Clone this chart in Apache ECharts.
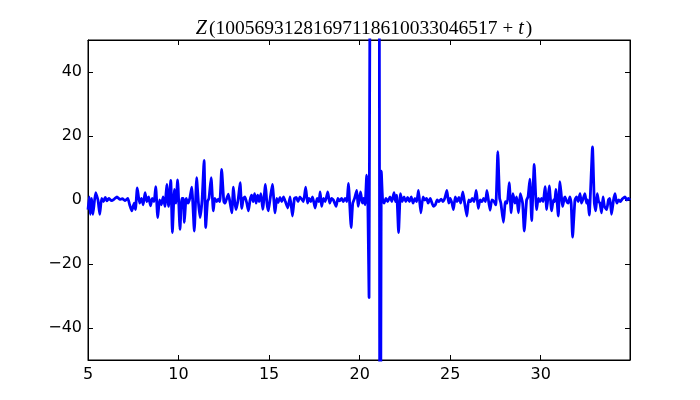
<!DOCTYPE html>
<html>
<head>
<meta charset="utf-8">
<script src="https://cdn.jsdelivr.net/npm/echarts@6/dist/echarts.min.js"></script>
<style>html,body{margin:0;padding:0;background:#fff}#c{width:700px;height:400px}</style>
</head>
<body>
<div id="c"></div>
<script>
const titleBase = "10056931281697118610033046517";
const xTicks = [5, 10, 15, 20, 25, 30];
const yTicks = [-40, -20, 0, 20, 40];

const tValues = [
5.00,5.07,5.13,5.20,5.27,5.42,5.55,5.65,5.75,5.85,5.95,6.05,6.15,6.30,6.45,6.60,6.75,6.90,7.05,7.20,
7.30,7.42,7.55,7.62,7.72,7.85,7.95,8.05,8.15,8.25,8.35,8.45,8.55,8.65,8.74,8.85,8.95,9.05,9.15,9.25,
9.35,9.45,9.57,9.66,9.77,9.85,9.95,10.08,10.18,10.27,10.32,10.42,10.52,10.62,10.73,10.87,11.00,11.10,11.19,11.30,
11.41,11.50,11.60,11.68,11.80,11.92,12.00,12.10,12.20,12.28,12.38,12.50,12.57,12.66,12.75,12.85,12.94,13.03,13.10,13.18,
13.30,13.40,13.49,13.58,13.67,13.77,13.86,13.95,14.04,14.12,14.20,14.28,14.37,14.45,14.55,14.65,14.80,14.88,14.96,15.06,
15.18,15.33,15.42,15.50,15.60,15.70,15.80,15.90,16.03,16.16,16.29,16.40,16.50,16.60,16.70,16.80,16.90,17.02,17.12,17.20,
17.30,17.40,17.54,17.65,17.75,17.82,17.90,18.00,18.10,18.24,18.35,18.45,18.55,18.70,18.80,18.90,19.00,19.10,19.20,19.30,
19.38,19.53,19.62,19.72,19.84,19.92,20.00,20.05,20.15,20.22,20.30,20.39,20.45,20.52,20.62,20.80,21.00,21.08,21.13,21.20,
21.27,21.35,21.45,21.55,21.68,21.78,21.90,21.98,22.05,22.15,22.25,22.35,22.45,22.55,22.65,22.75,22.85,22.95,23.05,23.15,
23.25,23.38,23.50,23.60,23.70,23.78,23.90,24.00,24.08,24.18,24.28,24.38,24.50,24.60,24.70,24.82,24.92,25.00,25.10,25.18,
25.28,25.38,25.48,25.58,25.70,25.80,25.92,26.02,26.12,26.22,26.32,26.44,26.55,26.65,26.75,26.85,26.95,27.03,27.20,27.30,
27.42,27.52,27.63,27.73,27.80,27.94,28.05,28.15,28.26,28.37,28.46,28.58,28.67,28.77,28.87,29.00,29.09,29.22,29.30,29.40,
29.50,29.64,29.77,29.87,29.96,30.05,30.14,30.24,30.33,30.47,30.60,30.70,30.77,30.84,30.97,31.06,31.21,31.30,31.34,31.44,
31.52,31.61,31.68,31.76,31.89,31.98,32.07,32.17,32.25,32.35,32.44,32.53,32.60,32.68,32.86,32.96,33.04,33.12,33.20,33.27,
33.36,33.44,33.52,33.64,33.74,33.82,33.91,34.02,34.10,34.20,34.30,34.40,34.50,34.65,34.75,34.85,34.93
];
const zValues = [
-3,1,-4.5,0.5,-4.5,2.3,0,-4.5,0.5,-0.5,0.8,-0.3,0.5,-0.2,0.3,1.0,0.2,0.4,-0.2,0.5,
-1.5,-3.4,-1.0,-3.0,3.8,-1,0.5,-1.5,2.3,-0.5,1,-1.8,0.5,-0.5,4.2,-5.5,0,-1.5,1,-2,
4.9,-2,6.1,-10.2,3.3,-1,6.3,-9.2,0.5,0.5,-7,0.5,-1,0.5,4,-9.7,7,-1,-5.5,0,
12.4,-8.6,-0.5,0.5,7,-3.4,0.5,-0.5,0.3,-0.5,9.6,-0.5,-1,0.5,1.8,-1,-4,4,-0.5,-3,
0.5,5.4,-2.6,0.5,1,-1,-3.4,0,1.5,-0.5,2,-1,1.5,-0.5,2,-2.9,4.9,-1,-3.4,0.5,
4.9,-4,0.5,-0.8,0.8,-0.5,1,-0.5,-2.5,1,-5,0.5,0.8,-0.5,1,0.3,-0.5,4,-1,0.5,
-0.5,1,-2.5,0.5,-0.5,2.5,-2,0.5,-0.5,2.5,-1,0.5,0,-2,0.5,-0.3,0.5,-0.5,0.5,-0.5,
5.2,-8.6,-1,0.5,3,-2,0.5,2.5,-1,0.5,-1.5,7.8,0,-30.5,180,320,200,100,-180,9,
0,-1,0.5,-0.5,1,-0.5,2.3,-0.5,1.5,-10.2,2,-0.5,1,-0.5,0.8,-0.5,1,-1,0.5,-0.5,
3,-4,1,0,0.5,-1,0.5,-1,-2,-1.5,0,-0.5,0.3,-0.5,0.5,3,-1,0.5,-1,-3,
1,-0.5,0.8,-1,2.5,-1,-5,0,-0.5,0.5,-0.5,3,-2.6,0,-0.5,0.5,-0.5,3,-3.2,0,
-0.5,-1.5,15.1,0.5,-1,-7,-0.5,-1,5.4,-4,2,-1,1,-4,2,-1,-9.7,0,1,6.5,
-6.4,11.1,-3,0.5,-0.5,0.5,-0.5,4.2,-3,4.4,-3.4,0,-0.5,3.3,-5,5.7,-2,0.5,1,-0.5,
-1,1,-1,-11.6,0,1,-0.5,2,-1,0.5,2,-1,0,-4.7,16.6,-1,-3.4,2,-0.5,-1,
-4,1,-2,-3,0,0.5,-4.5,0,2,-1,0,-0.5,0.3,1,0,0.5,0
];

const seriesData = tValues.map((t, i) => [t, zValues[i]]);
const fmt = v => String(v).replace('-', '\u2212');

const chart = echarts.init(document.getElementById('c'), null, {renderer: 'canvas'});
const tickStyle = {show: true, inside: true, length: 5, lineStyle: {color: '#000', width: 1}};
chart.setOption({
  animation: false,
  backgroundColor: '#fff',
  title: {
    text: '{i|Z}{d|(' + titleBase + '}{p|+}{i|t}{d|)}',
    left: 359,
    textAlign: 'center',
    top: 14,
    textStyle: {
      fontFamily: 'Liberation Serif',
      fontSize: 19.5,
      fontWeight: 'normal',
      color: '#000',
      rich: {
        i: {fontFamily: 'Liberation Serif', fontStyle: 'italic', fontSize: 20, color: '#000', padding: [0, 2, 0, 0]},
        d: {fontFamily: 'Liberation Serif', fontSize: 19.5, color: '#000'},
        p: {fontFamily: 'Liberation Serif', fontSize: 19, color: '#000', padding: [0, 5, 0, 5]}
      }
    }
  },
  grid: {left: 88, right: 70, top: 40, bottom: 40, show: true, borderColor: '#000', borderWidth: 1, backgroundColor: 'transparent'},
  xAxis: [{
    type: 'value', min: 5, max: 34.93,
    axisLine: {show: true, onZero: false, lineStyle: {color: '#000', width: 1}},
    axisTick: Object.assign({customValues: xTicks}, tickStyle),
    axisLabel: {customValues: xTicks, margin: 7, fontFamily: 'DejaVu Sans', fontSize: 16, color: '#000', formatter: fmt},
    splitLine: {show: false}
  }, {
    type: 'value', min: 5, max: 34.93, position: 'top',
    axisLine: {show: true, onZero: false, lineStyle: {color: '#000', width: 1}},
    axisTick: Object.assign({customValues: xTicks}, tickStyle),
    axisLabel: {show: false},
    splitLine: {show: false}
  }],
  yAxis: [{
    type: 'value', min: -50, max: 50,
    axisLine: {show: true, onZero: false, lineStyle: {color: '#000', width: 1}},
    axisTick: Object.assign({customValues: yTicks}, tickStyle),
    axisLabel: {customValues: yTicks, margin: 6, fontFamily: 'DejaVu Sans', fontSize: 16, color: '#000', formatter: fmt},
    splitLine: {show: false}
  }, {
    type: 'value', min: -50, max: 50, position: 'right',
    axisLine: {show: true, onZero: false, lineStyle: {color: '#000', width: 1}},
    axisTick: Object.assign({customValues: yTicks}, tickStyle),
    axisLabel: {show: false},
    splitLine: {show: false}
  }],
  series: [{
    type: 'line',
    data: seriesData,
    showSymbol: false,
    symbol: 'none',
    clip: true,
    lineStyle: {color: '#0000ff', width: 2.8, join: 'round'},
    smooth: 0.15
  }]
});
</script>
</body>
</html>
